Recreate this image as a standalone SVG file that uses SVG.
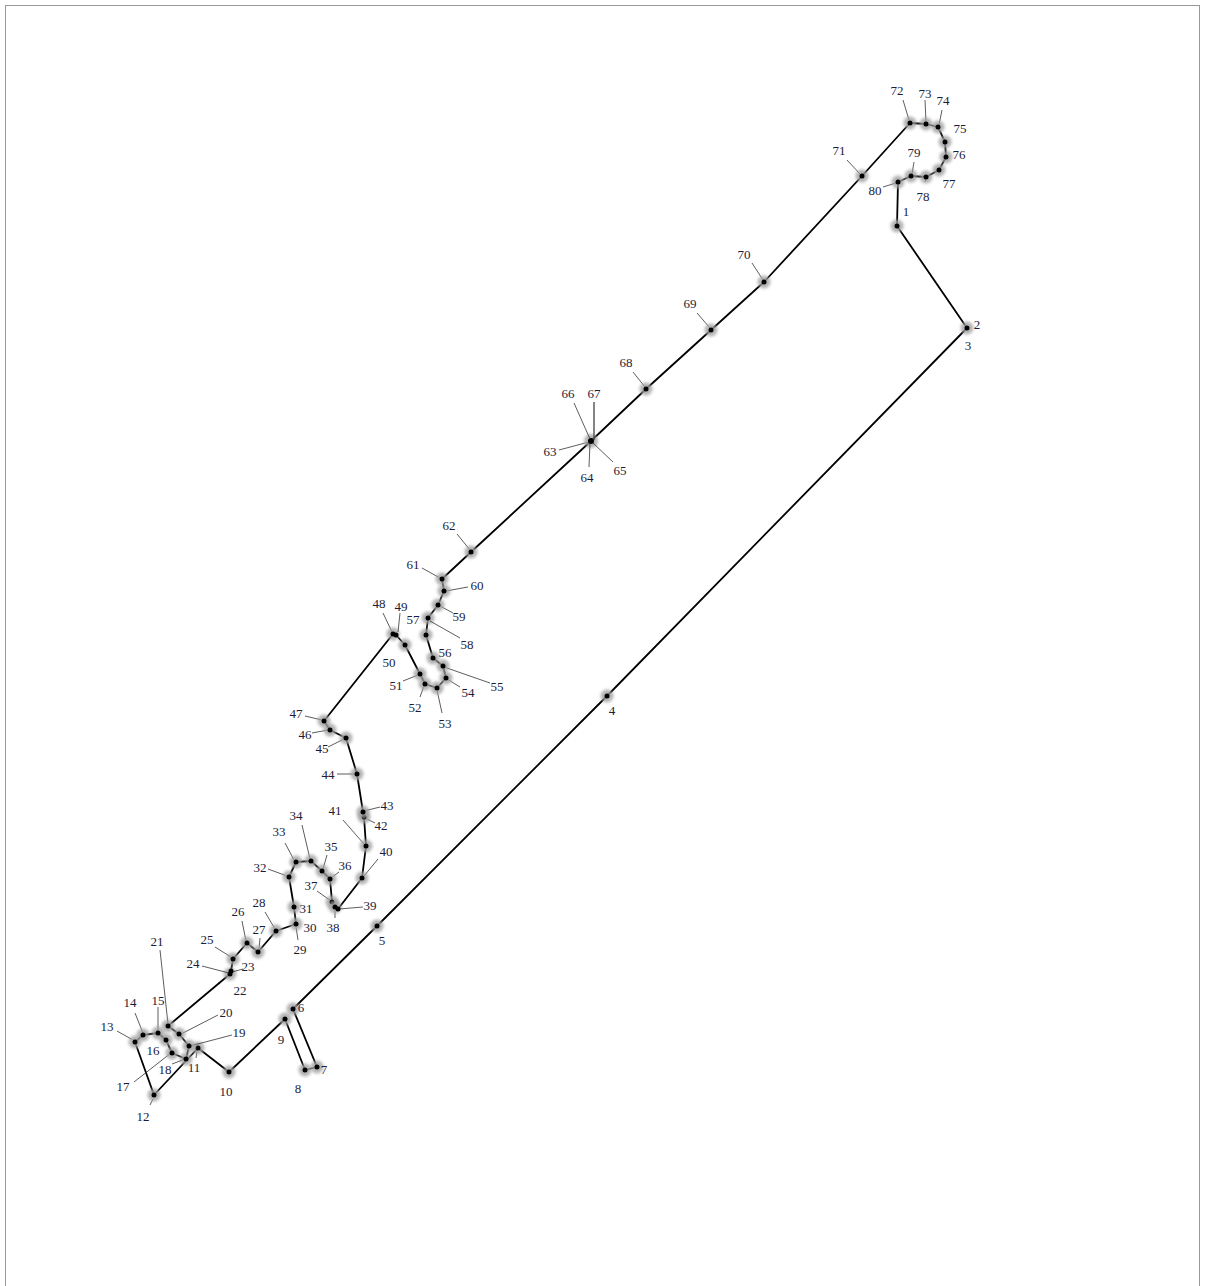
<svg xmlns="http://www.w3.org/2000/svg" width="1205" height="1286" viewBox="0 0 1205 1286">
<defs>
<filter id="blur" x="-50%" y="-50%" width="200%" height="200%"><feGaussianBlur stdDeviation="1.6"/></filter>
<style>
.route{fill:none;stroke:#000;stroke-width:1.8;stroke-linejoin:round}
.ld{stroke:#333;stroke-width:0.8}
.halo{fill:#a0a0a0;opacity:0.8;filter:url(#blur)}
.dot{fill:#000}
text{font-family:"Liberation Serif","Times New Roman",serif;font-size:13px;fill:#1c1c38;text-anchor:middle}
</style>
</defs>
<rect x="5.5" y="5.5" width="1194" height="1300" fill="#fff" stroke="#999" stroke-width="1"/>
<g id="connectors">
<polyline class="route" points="897,226 967,328 607,696 377,926 293,1009 317,1067 305,1070 285,1019 229,1072 198,1048 154,1095 135,1042 143,1035 158,1033 166,1040 172,1053 186,1059 189,1046 179,1034 168,1026 230,974 231,971 233,959 247,943 258,952 276,931 296,924 294,907 289,877 296,862 311,861 322,871 330,879 332,902 335,907 338,909 362,878 366,846 364,817 363,812 357,774 346,738 330,730 324,721 393,634 396,635 405,645 420,674 425,684 437,688 446,678 443,666 433,658 426,635 428,618 438,605 444,591 442,579 471,552 591,441 646,389 711,330 764,282 862,176 910,123 926,124 938,127 945,142 946,157 939,170 926,177 911,176 898,182 897,226"/>
</g>
<g id="n1"><circle class="halo" cx="897" cy="226" r="6.5"/><circle class="dot" cx="897" cy="226" r="2.5"/><text x="906" y="216">1</text></g>
<g id="n2"><circle class="halo" cx="967" cy="328" r="6.5"/><circle class="dot" cx="967" cy="328" r="2.5"/><text x="977" y="329">2</text></g>
<g id="n3"><text x="968" y="350">3</text></g>
<g id="n4"><circle class="halo" cx="607" cy="696" r="6.5"/><circle class="dot" cx="607" cy="696" r="2.5"/><text x="612" y="715">4</text></g>
<g id="n5"><circle class="halo" cx="377" cy="926" r="6.5"/><circle class="dot" cx="377" cy="926" r="2.5"/><text x="382" y="945">5</text></g>
<g id="n6"><circle class="halo" cx="293" cy="1009" r="6.5"/><circle class="dot" cx="293" cy="1009" r="2.5"/><text x="301" y="1012">6</text></g>
<g id="n7"><circle class="halo" cx="317" cy="1067" r="6.5"/><circle class="dot" cx="317" cy="1067" r="2.5"/><text x="324" y="1074">7</text></g>
<g id="n8"><circle class="halo" cx="305" cy="1070" r="6.5"/><circle class="dot" cx="305" cy="1070" r="2.5"/><text x="298" y="1093">8</text></g>
<g id="n9"><circle class="halo" cx="285" cy="1019" r="6.5"/><circle class="dot" cx="285" cy="1019" r="2.5"/><text x="281" y="1044">9</text></g>
<g id="n10"><circle class="halo" cx="229" cy="1072" r="6.5"/><circle class="dot" cx="229" cy="1072" r="2.5"/><text x="226" y="1096">10</text></g>
<g id="n11"><line class="ld" x1="196" y1="1058" x2="197" y2="1051"/><circle class="halo" cx="198" cy="1048" r="6.5"/><circle class="dot" cx="198" cy="1048" r="2.5"/><text x="194" y="1072">11</text></g>
<g id="n12"><line class="ld" x1="150" y1="1105" x2="153" y2="1099"/><circle class="halo" cx="154" cy="1095" r="6.5"/><circle class="dot" cx="154" cy="1095" r="2.5"/><text x="143" y="1121">12</text></g>
<g id="n13"><line class="ld" x1="117" y1="1031" x2="133" y2="1040"/><circle class="halo" cx="135" cy="1042" r="6.5"/><circle class="dot" cx="135" cy="1042" r="2.5"/><text x="107" y="1031">13</text></g>
<g id="n14"><line class="ld" x1="135" y1="1013" x2="143" y2="1033"/><circle class="halo" cx="143" cy="1035" r="6.5"/><circle class="dot" cx="143" cy="1035" r="2.5"/><text x="130" y="1007">14</text></g>
<g id="n15"><line class="ld" x1="158" y1="1007" x2="158" y2="1031"/><circle class="halo" cx="158" cy="1033" r="6.5"/><circle class="dot" cx="158" cy="1033" r="2.5"/><text x="158" y="1005">15</text></g>
<g id="n16"><circle class="halo" cx="166" cy="1040" r="6.5"/><circle class="dot" cx="166" cy="1040" r="2.5"/><text x="153" y="1055">16</text></g>
<g id="n17"><line class="ld" x1="134" y1="1082" x2="171" y2="1053"/><circle class="halo" cx="172" cy="1053" r="6.5"/><circle class="dot" cx="172" cy="1053" r="2.5"/><text x="123" y="1091">17</text></g>
<g id="n18"><line class="ld" x1="172" y1="1064" x2="185" y2="1059"/><circle class="halo" cx="186" cy="1059" r="6.5"/><circle class="dot" cx="186" cy="1059" r="2.5"/><text x="165" y="1074">18</text></g>
<g id="n19"><line class="ld" x1="232" y1="1035" x2="190" y2="1046"/><circle class="halo" cx="189" cy="1046" r="6.5"/><circle class="dot" cx="189" cy="1046" r="2.5"/><text x="239" y="1037">19</text></g>
<g id="n20"><line class="ld" x1="218" y1="1015" x2="181" y2="1034"/><circle class="halo" cx="179" cy="1034" r="6.5"/><circle class="dot" cx="179" cy="1034" r="2.5"/><text x="226" y="1017">20</text></g>
<g id="n21"><line class="ld" x1="160" y1="950" x2="168" y2="1024"/><circle class="halo" cx="168" cy="1026" r="6.5"/><circle class="dot" cx="168" cy="1026" r="2.5"/><text x="157" y="946">21</text></g>
<g id="n22"><circle class="halo" cx="230" cy="974" r="6.5"/><circle class="dot" cx="230" cy="974" r="2.5"/><text x="240" y="995">22</text></g>
<g id="n23"><line class="ld" x1="243" y1="969" x2="232" y2="972"/><circle class="dot" cx="231" cy="971" r="2.5"/><text x="248" y="971">23</text></g>
<g id="n24"><line class="ld" x1="202" y1="966" x2="229" y2="973"/><text x="193" y="968">24</text></g>
<g id="n25"><line class="ld" x1="215" y1="947" x2="231" y2="957"/><circle class="halo" cx="233" cy="959" r="6.5"/><circle class="dot" cx="233" cy="959" r="2.5"/><text x="207" y="944">25</text></g>
<g id="n26"><line class="ld" x1="242" y1="921" x2="246" y2="941"/><circle class="halo" cx="247" cy="943" r="6.5"/><circle class="dot" cx="247" cy="943" r="2.5"/><text x="238" y="916">26</text></g>
<g id="n27"><line class="ld" x1="260" y1="938" x2="259" y2="949"/><circle class="halo" cx="258" cy="952" r="6.5"/><circle class="dot" cx="258" cy="952" r="2.5"/><text x="259" y="934">27</text></g>
<g id="n28"><line class="ld" x1="265" y1="912" x2="275" y2="929"/><circle class="halo" cx="276" cy="931" r="6.5"/><circle class="dot" cx="276" cy="931" r="2.5"/><text x="259" y="907">28</text></g>
<g id="n29"><line class="ld" x1="298" y1="940" x2="296" y2="927"/><text x="300" y="954">29</text></g>
<g id="n30"><circle class="halo" cx="296" cy="924" r="6.5"/><circle class="dot" cx="296" cy="924" r="2.5"/><text x="310" y="932">30</text></g>
<g id="n31"><circle class="halo" cx="294" cy="907" r="6.5"/><circle class="dot" cx="294" cy="907" r="2.5"/><text x="306" y="913">31</text></g>
<g id="n32"><line class="ld" x1="268" y1="869" x2="287" y2="876"/><circle class="halo" cx="289" cy="877" r="6.5"/><circle class="dot" cx="289" cy="877" r="2.5"/><text x="260" y="872">32</text></g>
<g id="n33"><line class="ld" x1="285" y1="843" x2="294" y2="860"/><circle class="halo" cx="296" cy="862" r="6.5"/><circle class="dot" cx="296" cy="862" r="2.5"/><text x="279" y="836">33</text></g>
<g id="n34"><line class="ld" x1="302" y1="825" x2="310" y2="859"/><circle class="halo" cx="311" cy="861" r="6.5"/><circle class="dot" cx="311" cy="861" r="2.5"/><text x="296" y="820">34</text></g>
<g id="n35"><line class="ld" x1="327" y1="855" x2="323" y2="869"/><circle class="halo" cx="322" cy="871" r="6.5"/><circle class="dot" cx="322" cy="871" r="2.5"/><text x="331" y="851">35</text></g>
<g id="n36"><line class="ld" x1="339" y1="872" x2="331" y2="878"/><circle class="halo" cx="330" cy="879" r="6.5"/><circle class="dot" cx="330" cy="879" r="2.5"/><text x="345" y="870">36</text></g>
<g id="n37"><line class="ld" x1="317" y1="891" x2="331" y2="901"/><circle class="halo" cx="332" cy="902" r="6.5"/><circle class="dot" cx="332" cy="902" r="2.5"/><text x="311" y="890">37</text></g>
<g id="n38"><line class="ld" x1="335" y1="918" x2="335" y2="909"/><circle class="halo" cx="335" cy="907" r="6.5"/><circle class="dot" cx="335" cy="907" r="2.5"/><text x="333" y="932">38</text></g>
<g id="n39"><line class="ld" x1="363" y1="907" x2="339" y2="909"/><circle class="dot" cx="338" cy="909" r="2.5"/><text x="370" y="910">39</text></g>
<g id="n40"><line class="ld" x1="378" y1="859" x2="364" y2="876"/><circle class="halo" cx="362" cy="878" r="6.5"/><circle class="dot" cx="362" cy="878" r="2.5"/><text x="386" y="856">40</text></g>
<g id="n41"><line class="ld" x1="343" y1="820" x2="364" y2="844"/><circle class="halo" cx="366" cy="846" r="6.5"/><circle class="dot" cx="366" cy="846" r="2.5"/><text x="335" y="815">41</text></g>
<g id="n42"><line class="ld" x1="375" y1="823" x2="365" y2="818"/><circle class="halo" cx="364" cy="817" r="6.5"/><circle class="dot" cx="364" cy="817" r="2.5"/><text x="381" y="830">42</text></g>
<g id="n43"><line class="ld" x1="380" y1="807" x2="364" y2="811"/><circle class="halo" cx="363" cy="812" r="6.5"/><circle class="dot" cx="363" cy="812" r="2.5"/><text x="387" y="810">43</text></g>
<g id="n44"><line class="ld" x1="337" y1="774" x2="355" y2="774"/><circle class="halo" cx="357" cy="774" r="6.5"/><circle class="dot" cx="357" cy="774" r="2.5"/><text x="328" y="779">44</text></g>
<g id="n45"><line class="ld" x1="328" y1="747" x2="344" y2="739"/><circle class="halo" cx="346" cy="738" r="6.5"/><circle class="dot" cx="346" cy="738" r="2.5"/><text x="322" y="753">45</text></g>
<g id="n46"><line class="ld" x1="312" y1="733" x2="328" y2="730"/><circle class="halo" cx="330" cy="730" r="6.5"/><circle class="dot" cx="330" cy="730" r="2.5"/><text x="305" y="739">46</text></g>
<g id="n47"><line class="ld" x1="305" y1="716" x2="322" y2="720"/><circle class="halo" cx="324" cy="721" r="6.5"/><circle class="dot" cx="324" cy="721" r="2.5"/><text x="296" y="718">47</text></g>
<g id="n48"><line class="ld" x1="383" y1="613" x2="392" y2="632"/><circle class="halo" cx="393" cy="634" r="6.5"/><circle class="dot" cx="393" cy="634" r="2.5"/><text x="379" y="608">48</text></g>
<g id="n49"><line class="ld" x1="400" y1="613" x2="398" y2="632"/><circle class="dot" cx="396" cy="635" r="2.5"/><text x="401" y="611">49</text></g>
<g id="n50"><circle class="halo" cx="405" cy="645" r="6.5"/><circle class="dot" cx="405" cy="645" r="2.5"/><text x="389" y="667">50</text></g>
<g id="n51"><line class="ld" x1="403" y1="681" x2="418" y2="675"/><circle class="halo" cx="420" cy="674" r="6.5"/><circle class="dot" cx="420" cy="674" r="2.5"/><text x="396" y="690">51</text></g>
<g id="n52"><line class="ld" x1="420" y1="697" x2="424" y2="686"/><circle class="halo" cx="425" cy="684" r="6.5"/><circle class="dot" cx="425" cy="684" r="2.5"/><text x="415" y="712">52</text></g>
<g id="n53"><line class="ld" x1="442" y1="713" x2="437" y2="690"/><circle class="halo" cx="437" cy="688" r="6.5"/><circle class="dot" cx="437" cy="688" r="2.5"/><text x="445" y="728">53</text></g>
<g id="n54"><line class="ld" x1="460" y1="687" x2="447" y2="679"/><circle class="halo" cx="446" cy="678" r="6.5"/><circle class="dot" cx="446" cy="678" r="2.5"/><text x="468" y="697">54</text></g>
<g id="n55"><line class="ld" x1="490" y1="683" x2="444" y2="667"/><circle class="halo" cx="443" cy="666" r="6.5"/><circle class="dot" cx="443" cy="666" r="2.5"/><text x="497" y="691">55</text></g>
<g id="n56"><circle class="halo" cx="433" cy="658" r="6.5"/><circle class="dot" cx="433" cy="658" r="2.5"/><text x="445" y="657">56</text></g>
<g id="n57"><circle class="halo" cx="428" cy="618" r="6.5"/><circle class="dot" cx="428" cy="618" r="2.5"/><text x="413" y="624">57</text></g>
<g id="n58"><line class="ld" x1="460" y1="638" x2="430" y2="621"/><circle class="halo" cx="426" cy="635" r="6.5"/><circle class="dot" cx="426" cy="635" r="2.5"/><text x="467" y="649">58</text></g>
<g id="n59"><line class="ld" x1="453" y1="613" x2="440" y2="606"/><circle class="halo" cx="438" cy="605" r="6.5"/><circle class="dot" cx="438" cy="605" r="2.5"/><text x="459" y="621">59</text></g>
<g id="n60"><line class="ld" x1="468" y1="587" x2="446" y2="591"/><circle class="halo" cx="444" cy="591" r="6.5"/><circle class="dot" cx="444" cy="591" r="2.5"/><text x="477" y="590">60</text></g>
<g id="n61"><line class="ld" x1="422" y1="568" x2="440" y2="578"/><circle class="halo" cx="442" cy="579" r="6.5"/><circle class="dot" cx="442" cy="579" r="2.5"/><text x="413" y="569">61</text></g>
<g id="n62"><line class="ld" x1="457" y1="534" x2="470" y2="550"/><circle class="halo" cx="471" cy="552" r="6.5"/><circle class="dot" cx="471" cy="552" r="2.5"/><text x="449" y="530">62</text></g>
<g id="n63"><line class="ld" x1="559" y1="450" x2="589" y2="442"/><circle class="halo" cx="591" cy="441" r="7"/><circle class="dot" cx="591" cy="441" r="3"/><text x="550" y="456">63</text></g>
<g id="n64"><line class="ld" x1="589" y1="467" x2="590" y2="443"/><text x="587" y="482">64</text></g>
<g id="n65"><line class="ld" x1="613" y1="462" x2="593" y2="443"/><text x="620" y="475">65</text></g>
<g id="n66"><line class="ld" x1="574" y1="403" x2="590" y2="439"/><text x="568" y="398">66</text></g>
<g id="n67"><line class="ld" x1="594" y1="402" x2="594" y2="440" style="stroke-width:1.2"/><text x="594" y="398">67</text></g>
<g id="n68"><line class="ld" x1="633" y1="372" x2="645" y2="387"/><circle class="halo" cx="646" cy="389" r="6.5"/><circle class="dot" cx="646" cy="389" r="2.5"/><text x="626" y="367">68</text></g>
<g id="n69"><line class="ld" x1="697" y1="313" x2="710" y2="328"/><circle class="halo" cx="711" cy="330" r="6.5"/><circle class="dot" cx="711" cy="330" r="2.5"/><text x="690" y="308">69</text></g>
<g id="n70"><line class="ld" x1="752" y1="263" x2="763" y2="280"/><circle class="halo" cx="764" cy="282" r="6.5"/><circle class="dot" cx="764" cy="282" r="2.5"/><text x="744" y="259">70</text></g>
<g id="n71"><line class="ld" x1="847" y1="160" x2="860" y2="174"/><circle class="halo" cx="862" cy="176" r="6.5"/><circle class="dot" cx="862" cy="176" r="2.5"/><text x="839" y="155">71</text></g>
<g id="n72"><line class="ld" x1="903" y1="100" x2="909" y2="120"/><circle class="halo" cx="910" cy="123" r="6.5"/><circle class="dot" cx="910" cy="123" r="2.5"/><text x="897" y="95">72</text></g>
<g id="n73"><line class="ld" x1="925" y1="100" x2="926" y2="122"/><circle class="halo" cx="926" cy="124" r="6.5"/><circle class="dot" cx="926" cy="124" r="2.5"/><text x="925" y="98">73</text></g>
<g id="n74"><line class="ld" x1="942" y1="110" x2="939" y2="125"/><circle class="halo" cx="938" cy="127" r="6.5"/><circle class="dot" cx="938" cy="127" r="2.5"/><text x="943" y="105">74</text></g>
<g id="n75"><circle class="halo" cx="945" cy="142" r="6.5"/><circle class="dot" cx="945" cy="142" r="2.5"/><text x="960" y="133">75</text></g>
<g id="n76"><circle class="halo" cx="946" cy="157" r="6.5"/><circle class="dot" cx="946" cy="157" r="2.5"/><text x="959" y="159">76</text></g>
<g id="n77"><circle class="halo" cx="939" cy="170" r="6.5"/><circle class="dot" cx="939" cy="170" r="2.5"/><text x="949" y="188">77</text></g>
<g id="n78"><line class="ld" x1="925" y1="182" x2="926" y2="179"/><circle class="halo" cx="926" cy="177" r="6.5"/><circle class="dot" cx="926" cy="177" r="2.5"/><text x="923" y="201">78</text></g>
<g id="n79"><line class="ld" x1="914" y1="162" x2="912" y2="174"/><circle class="halo" cx="911" cy="176" r="6.5"/><circle class="dot" cx="911" cy="176" r="2.5"/><text x="914" y="157">79</text></g>
<g id="n80"><line class="ld" x1="883" y1="187" x2="896" y2="183"/><circle class="halo" cx="898" cy="182" r="6.5"/><circle class="dot" cx="898" cy="182" r="2.5"/><text x="875" y="195">80</text></g>
</svg>
